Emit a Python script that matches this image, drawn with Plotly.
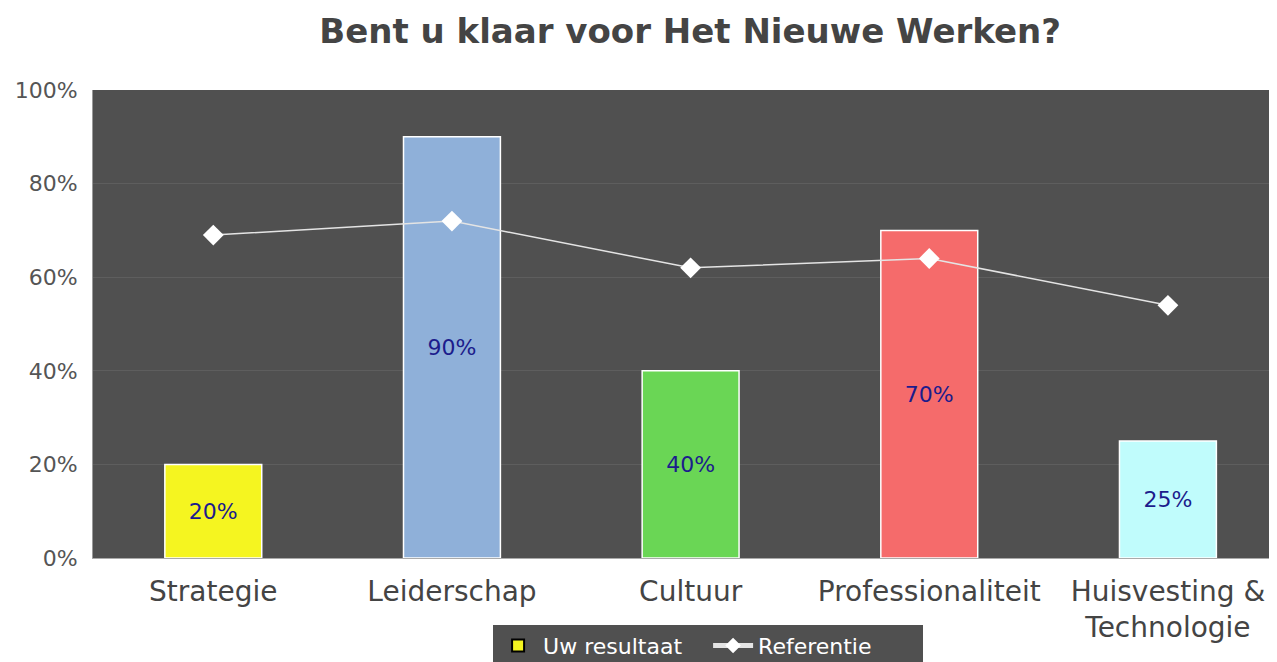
import plotly.graph_objects as go

categories = ["Strategie", "Leiderschap", "Cultuur", "Professionaliteit", "Huisvesting &<br>Technologie"]
uw_resultaat = [20, 90, 40, 70, 25]
referentie = [69, 72, 62, 64, 54]
bar_colors = ["#f5f520", "#8fb0d9", "#6ad655", "#f56b6b", "#c0fcfc"]
y_ticks = [0, 20, 40, 60, 80, 100]
y_ticklabels = ["0%", "20%", "40%", "60%", "80%", "100%"]

fig = go.Figure()
fig.add_trace(go.Bar(
    x=categories, y=uw_resultaat, name="Uw resultaat",
    marker=dict(color=bar_colors, line=dict(color="white", width=1.5)),
    text=[f"{v}%" for v in uw_resultaat], textposition="inside",
    insidetextanchor="middle",
    textfont=dict(color="#1c1c8c", size=22, family="DejaVu Sans"),
    showlegend=False,
))
# legend proxy for bar (yellow square with black border)
fig.add_trace(go.Scatter(
    x=[None], y=[None], mode="markers", name="Uw resultaat",
    marker=dict(symbol="square", size=14, color="#f5f520", line=dict(color="black", width=1.5)),
))
fig.add_trace(go.Scatter(
    x=categories, y=referentie, name="Referentie", mode="lines+markers",
    line=dict(color="#e4e4e4", width=1.5),
    marker=dict(symbol="diamond", size=16, color="white"),
))

# page body has an 8px margin; compensate so the plot lands where the reference has it
fig.update_layout(
    width=1269, height=654,
    paper_bgcolor="white", plot_bgcolor="#505050",
    margin=dict(l=85, r=0, t=82, b=104, autoexpand=False),
    title=dict(text="<b>Bent u klaar voor Het Nieuwe Werken?</b>", x=0.5375, xanchor="center",
               y=0.9645, yanchor="middle",
               font=dict(size=34, color="#444444", family="DejaVu Sans")),
    bargap=0.594,
    font=dict(family="DejaVu Sans"),
    legend=dict(orientation="h", x=0.5195, xanchor="center", y=-0.1425, yanchor="top",
                bgcolor="#505050", font=dict(color="white", size=22, family="DejaVu Sans"),
                itemsizing="constant", traceorder="normal", itemwidth=40,
                entrywidth=160, entrywidthmode="pixels"),
)
fig.update_yaxes(range=[0, 100], tickvals=y_ticks, ticktext=y_ticklabels,
                 gridcolor="#5e5e5e", gridwidth=1, zeroline=False, automargin=False,
                 tickfont=dict(size=22, color="#555555"), ticklabelstandoff=10,
                 showline=True, linecolor="#9a9a9a", linewidth=1, ticks="", mirror=False)
# the reference plot area runs past the right edge of the image
fig.update_xaxes(range=[-0.504, 4.457],
                 tickfont=dict(size=28, color="#444444"), showline=True, linecolor="#aaaaaa",
                 linewidth=1, automargin=False, ticklabelstandoff=8)

fig.write_html("out.html")
